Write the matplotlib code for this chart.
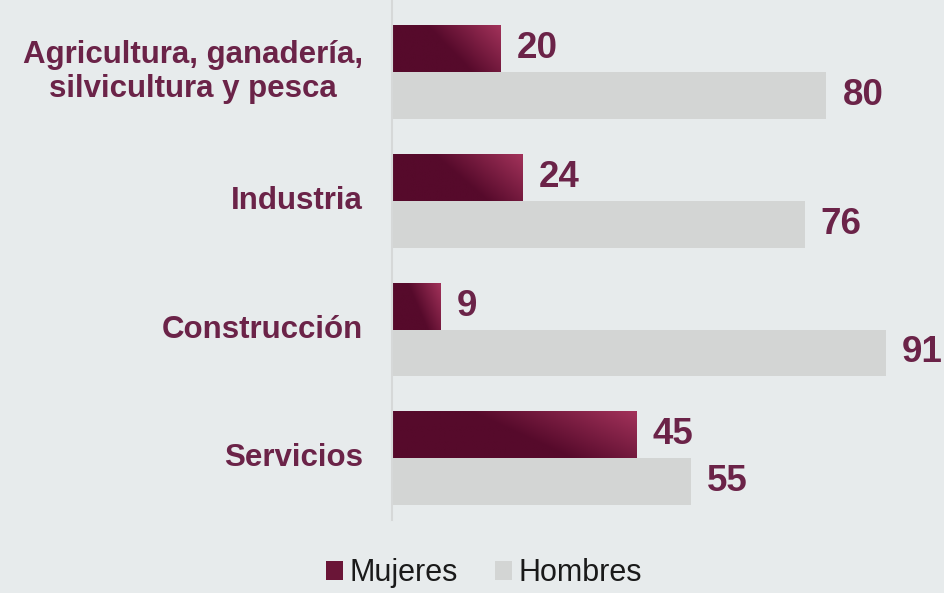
import numpy as np
import matplotlib
matplotlib.use("Agg")
import matplotlib.pyplot as plt
from matplotlib.patches import Rectangle
from matplotlib.colors import to_rgb

categories = ["Agricultura, ganadería,\nsilvicultura y pesca", "Industria", "Construcción", "Servicios"]
mujeres = [20, 24, 9, 45]
hombres = [80, 76, 91, 55]
series_names = ["Mujeres", "Hombres"]

bg = "#E7EBEC"
dark = np.array(to_rgb("#560A2B"))
light = np.array(to_rgb("#A2325A"))
grey = "#D3D5D4"
txt = "#6B2348"

plt.rcParams['font.family'] = ['Liberation Sans', 'DejaVu Sans']

fig = plt.figure(figsize=(9.45, 5.93), dpi=100, facecolor=bg)
W, H = 945, 593
ax = fig.add_axes([392 / W, (H - 520) / H, (W - 392) / W, 520 / H])
ax.set_facecolor(bg)
ax.set_xlim(0, (W - 392) / 5.43)
ax.set_ylim(3.48, -0.56)

h = 0.365
y = np.arange(len(categories))

# gradient image
gx = np.linspace(0, 1, 200)
gw = np.linspace(1, 0, 50)
U, Wv = np.meshgrid(gx, gw)
t = np.clip((U - 0.73 + 0.41 * Wv) / 0.68, 0, 1)
img = dark[None, None, :] * (1 - t[..., None]) + light[None, None, :] * t[..., None]

for i, v in enumerate(mujeres):
    rect = Rectangle((0, y[i] - h), v, h, facecolor=dark, edgecolor='none')
    ax.add_patch(rect)
    im = ax.imshow(img, extent=(0, v, y[i], y[i] - h), aspect='auto', zorder=2, interpolation='bilinear')
    im.set_clip_path(rect)
    ax.text(v + 16 / 5.43, y[i] - h / 2, str(v), va='center', ha='left',
            fontsize=26.5, fontweight='bold', color=txt, clip_on=False)

ax.barh(y + h / 2, hombres, height=h, color=grey, zorder=2)
for i, v in enumerate(hombres):
    ax.text(v + 16 / 5.43, y[i] + h / 2, str(v), va='center', ha='left',
            fontsize=26.5, fontweight='bold', color=txt, clip_on=False)

ax.set_xlim(0, (W - 392) / 5.43)
ax.set_ylim(3.48, -0.56)
ax.set_xticks([])
ax.set_yticks([])
for s in ['top', 'right', 'bottom']:
    ax.spines[s].set_visible(False)
ax.spines['left'].set_color('#D6D8D8')
ax.spines['left'].set_linewidth(1.5)

for i, c in enumerate(categories):
    ax.annotate(c, xy=(0, y[i]), xycoords='data', xytext=(-29 * 72 / 100, 0),
                textcoords='offset points', ha='right', va='center', multialignment='center',
                fontsize=22.5, fontweight='bold', color=txt, linespacing=1.2)

# legend
handles = [Rectangle((0, 0), 1, 1, facecolor="#6A1537"), Rectangle((0, 0), 1, 1, facecolor=grey)]
fig.legend(handles, series_names, loc='lower center', bbox_to_anchor=(0.512, -0.038), ncol=2,
           frameon=False, fontsize=22, handlelength=0.58, handleheight=0.58, handletextpad=0.2,
           columnspacing=1.2, labelcolor='#1a1a1a')

fig.savefig("out.png", dpi=100, facecolor=bg)
